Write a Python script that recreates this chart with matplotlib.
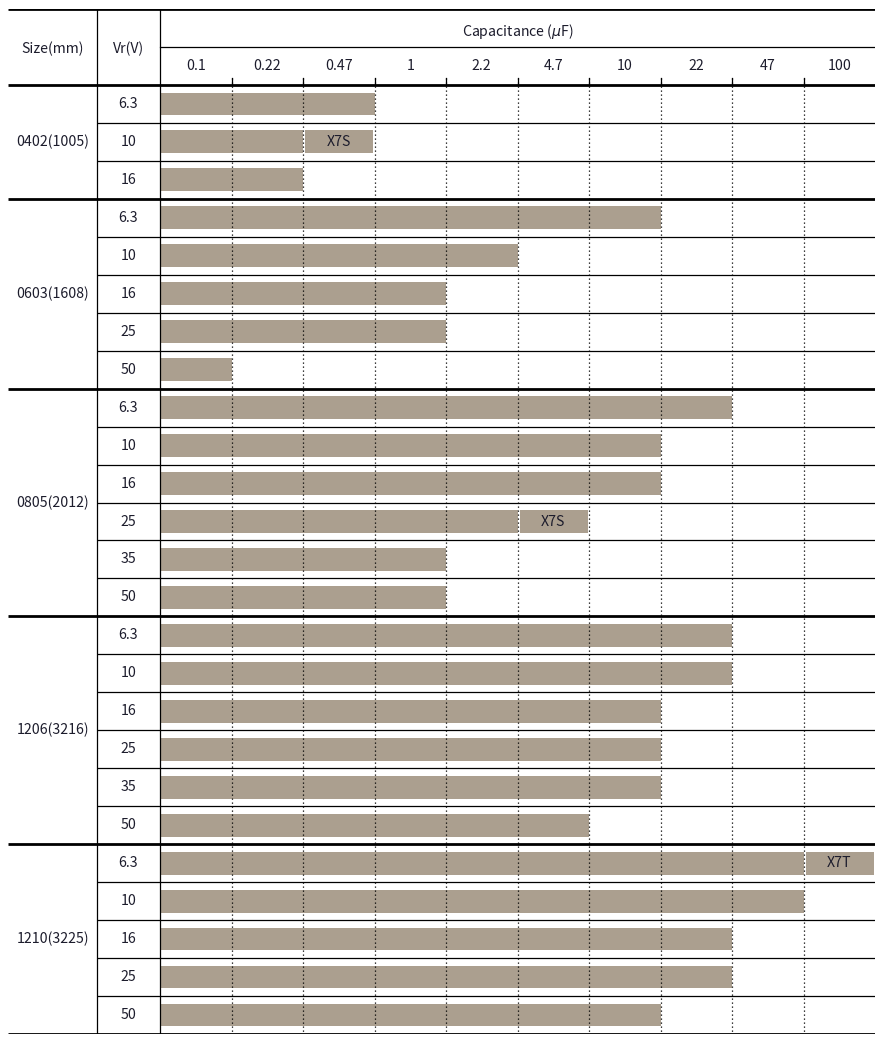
import matplotlib.pyplot as plt

# capacitance columns (uF)
caps = ['0.1', '0.22', '0.47', '1', '2.2', '4.7', '10', '22', '47', '100']

sizes = ['0402(1005)', '0603(1608)', '0805(2012)', '1206(3216)', '1210(3225)']
volts = [
    ['6.3', '10', '16'],
    ['6.3', '10', '16', '25', '50'],
    ['6.3', '10', '16', '25', '35', '50'],
    ['6.3', '10', '16', '25', '35', '50'],
    ['6.3', '10', '16', '25', '50'],
]
# highest capacitance reached by the main bar, one per row
max_cap = [
    ['0.47', '0.22', '0.22'],
    ['10', '2.2', '1', '1', '0.1'],
    ['22', '10', '10', '2.2', '1', '1'],
    ['22', '22', '10', '10', '10', '4.7'],
    ['47', '47', '22', '22', '10'],
]
# extra labelled cells: (size, voltage, capacitance, label)
extras = [
    ('0402(1005)', '10', '0.47', 'X7S'),
    ('0805(2012)', '25', '4.7', 'X7S'),
    ('1210(3225)', '6.3', '100', 'X7T'),
]

bar_color = '#ab9f8f'
txt_color = '#1c1c2c'
fs = 10.2
plt.rcParams['font.family'] = ['Noto Sans CJK KR', 'DejaVu Sans']

fig = plt.figure(figsize=(8.85, 10.44), dpi=100)
ax = fig.add_axes([8 / 885, 1 - 1034 / 1044, 867 / 885, 1025 / 1044])

ncol = len(caps)
vr_left = -63 / 71.5
size_left = -152 / 71.5
nrows = sum(len(v) for v in volts)
ax.set_xlim(size_left, ncol)
ax.set_ylim(nrows, -2)
ax.axis('off')

# bars
row = 0
row_of = {}
group_bounds = [0]
for s, vs, ms in zip(sizes, volts, max_cap):
    start = row
    for v, m in zip(vs, ms):
        row_of[(s, v)] = row
        ax.barh(row + 0.5, caps.index(m) + 1, left=0, height=0.6,
                color=bar_color, zorder=1)
        ax.text(vr_left / 2, row + 0.5, v, ha='center', va='center',
                fontsize=fs, color=txt_color)
        if row > start:
            ax.plot([vr_left, ncol], [row, row], color='black', lw=0.9,
                    solid_capstyle='butt', zorder=3)
        row += 1
    ax.text((size_left + vr_left) / 2, (start + row) / 2, s, ha='center',
            va='center', fontsize=fs, color=txt_color)
    group_bounds.append(row)

for s, v, c, lab in extras:
    r = row_of[(s, v)]
    i = caps.index(c)
    ax.barh(r + 0.5, 1 - 0.045, left=i + 0.03, height=0.6,
            color=bar_color, zorder=1)
    ax.text(i + 0.5, r + 0.5, lab, ha='center', va='center',
            fontsize=fs, color=txt_color, zorder=4)

# dotted column boundaries with small solid ticks in header
for i in range(1, ncol):
    ax.plot([i, i], [-0.18, nrows], color='black', lw=0.9,
            linestyle=(0, (1, 2.2)), zorder=2)
    ax.plot([i, i], [-0.18, 0], color='black', lw=0.9, zorder=3)

# header
for i, c in enumerate(caps):
    ax.text(i + 0.5, -0.5, c, ha='center', va='center', fontsize=fs,
            color=txt_color)
ax.text(ncol / 2, -1.42, r'Capacitance ($\mu$F)', ha='center', va='center',
        fontsize=fs, color=txt_color)
ax.text((size_left + vr_left) / 2, -0.95, 'Size(mm)', ha='center',
        va='center', fontsize=fs, color=txt_color)
ax.text(vr_left / 2, -0.95, 'Vr(V)', ha='center', va='center', fontsize=fs,
        color=txt_color)
ax.plot([0, ncol], [-1, -1], color='black', lw=0.9, zorder=3)

# frame lines
for y in [-2, 0] + group_bounds[1:]:
    ax.plot([size_left, ncol], [y, y], color='black', lw=2.0,
            solid_capstyle='butt', zorder=3)
for x in [vr_left, 0]:
    ax.plot([x, x], [-2, nrows], color='black', lw=0.9, zorder=3)

fig.savefig('out.png', dpi=100)
